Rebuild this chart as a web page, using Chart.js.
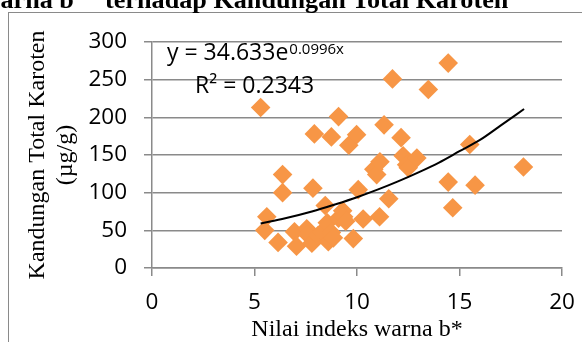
<!DOCTYPE html>
<html>
<head>
<meta charset="utf-8">
<script src="https://cdn.jsdelivr.net/npm/chart.js@4/dist/chart.umd.min.js"></script>
<style>
html,body{margin:0;padding:0;background:#fff;width:582px;height:342px;overflow:hidden;}
#wrap{position:relative;width:582px;height:342px;overflow:hidden;}
#frame{position:absolute;left:8px;top:12px;width:620px;height:400px;border:1px solid #8a8a8a;box-sizing:border-box;}
canvas{position:absolute;left:0;top:0;}
.ttl{position:absolute;top:-13px;font:bold 26.2px/26px "Liberation Serif","Times New Roman",serif;color:#000;white-space:nowrap;}
.ast{position:relative;top:-12px;}
</style>
</head>
<body>
<div id="wrap">
  <div id="frame"></div>
  <canvas id="c" width="582" height="342"></canvas>
  <div class="ttl" style="left:-18.5px">warna b<span class="ast">*</span></div>
  <div class="ttl" style="left:105px">terhadap Kandungan Total Karoten</div>
</div>
<script>
// Scatter data
const xValues = [5.3, 5.6, 5.5, 6.15, 6.37, 6.37, 6.95, 7.05, 7.55, 7.6,
  7.8, 7.92, 7.85, 8.1, 8.3, 8.45, 8.55, 8.6, 8.75, 8.75,
  8.85, 9.1, 9.1, 9.3, 9.35, 9.45, 9.6, 9.98, 9.82, 10.06,
  10.3, 10.82, 10.96, 11.12, 11.1, 11.32, 11.55, 11.73, 12.15, 12.25,
  12.42, 12.5, 12.92, 13.48, 14.45, 14.45, 14.67, 15.5, 15.76, 18.12];
const yValues = [213, 68, 50, 34, 124, 100, 48, 29, 52, 44,
  33, 178, 106, 43, 48, 83, 60, 35, 47, 174,
  40, 201, 66, 76, 68, 62, 163, 177, 39, 104,
  65, 131, 124, 141, 68, 190, 92, 251, 173, 149,
  137, 133, 146, 237, 272, 114, 80, 164, 110, 134];

// Exponential trendline, points
const trendX = [5.3, 6.5, 7.8, 9, 10, 11, 12, 13, 14, 15, 16, 17, 18.15];
const trendY = [59, 66, 75, 85, 94, 104, 115, 127, 140, 155, 170, 189, 211];

// Tick labels
const xTicks = [0, 5, 10, 15, 20];
const yTicks = [0, 50, 100, 150, 200, 250, 300];

// Trendline label text
const eqMain = 'y = 34.633e';
const eqExp = '0.0996x';
const r2Text = 'R\u00B2 = 0.2343';
const eqPos = [0.73, 275.7];
const r2Pos = [2.1, 232];

const gridColor = '#8a8a8a';

const eqPlugin = {
  id: 'eqLabel',
  afterDatasetsDraw(chart) {
    const {ctx, scales: {x, y}} = chart;
    ctx.save();
    ctx.fillStyle = '#000';
    ctx.textBaseline = 'alphabetic';
    ctx.textAlign = 'left';
    ctx.font = '23px "Open Sans"';
    const x0 = x.getPixelForValue(eqPos[0]);
    const y0 = y.getPixelForValue(eqPos[1]);
    ctx.fillText(eqMain, x0, y0);
    const w = ctx.measureText(eqMain).width;
    ctx.font = '15px "Open Sans"';
    ctx.fillText(eqExp, x0 + w + 1, y0 - 6.5);
    ctx.font = '23px "Open Sans"';
    ctx.fillText(r2Text, x.getPixelForValue(r2Pos[0]), y.getPixelForValue(r2Pos[1]));
    ctx.restore();
  }
};

new Chart(document.getElementById('c'), {
  type: 'scatter',
  data: {
    datasets: [
      {
        label: 'Trend',
        data: trendX.map((v, i) => ({x: v, y: trendY[i]})),
        showLine: true,
        borderColor: '#000',
        borderWidth: 2,
        pointRadius: 0,
        pointHoverRadius: 0,
        cubicInterpolationMode: 'monotone',
        fill: false,
        order: 0
      },
      {
        label: 'Data',
        data: xValues.map((v, i) => ({x: v, y: yValues[i]})),
        pointStyle: 'rectRot',
        pointRadius: 9.8,
        pointHoverRadius: 9.8,
        backgroundColor: '#F79646',
        borderColor: '#F79646',
        borderWidth: 0,
        order: 1
      }
    ]
  },
  options: {
    responsive: false,
    animation: false,
    events: [],
    layout: {padding: {top: 42, right: 20, left: 0, bottom: 0}},
    plugins: {legend: {display: false}, tooltip: {enabled: false}},
    scales: {
      x: {
        type: 'linear', min: 0, max: 20,
        afterBuildTicks(s) { s.ticks = xTicks.map(v => ({value: v})); },
        afterFit(s) { s.height = 74; s.paddingLeft = 0; s.paddingRight = 0; },
        grid: {drawOnChartArea: false, drawTicks: true, tickLength: 8, color: gridColor, lineWidth: 1.5},
        border: {display: true, color: gridColor, width: 1.5},
        ticks: {font: {family: 'Open Sans', size: 22.5}, color: '#000', padding: 13.5, maxRotation: 0},
        title: {display: true, text: 'Nilai indeks warna b*', color: '#000',
          font: {family: 'Liberation Serif', size: 24, lineHeight: 1}, padding: {top: 0, bottom: 0}}
      },
      y: {
        type: 'linear', min: 0, max: 300,
        afterBuildTicks(s) { s.ticks = yTicks.map(v => ({value: v})); },
        afterFit(s) { s.width = 152; s.paddingTop = 0; s.paddingBottom = 0; },
        grid: {color: gridColor, lineWidth: 1.5, tickLength: 8},
        border: {display: true, color: gridColor, width: 1.5},
        ticks: {font: {family: 'Open Sans', size: 22.5}, color: '#000', padding: 17},
        title: {display: true, text: ['Kandungan Total Karoten', '(\u00B5g/g)'], color: '#000',
          font: {family: 'Liberation Serif', size: 24, lineHeight: 1.167}, padding: {top: 24, bottom: 0}}
      }
    }
  },
  plugins: [eqPlugin]
});
</script>
</body>
</html>
